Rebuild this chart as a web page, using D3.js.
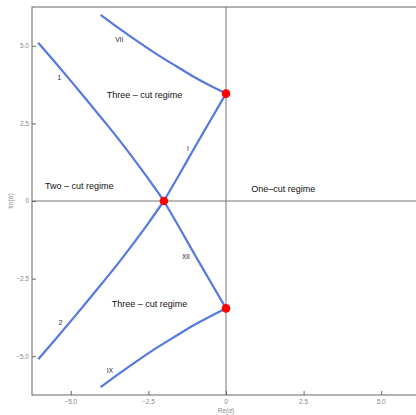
<!DOCTYPE html>
<html>
<head>
<meta charset="utf-8">
<script src="https://cdn.jsdelivr.net/npm/d3@7"></script>
<style>
  body { margin: 0; background: #fff; }
  text { font-family: "Liberation Sans", Arial, sans-serif; }
</style>
</head>
<body>
<div id="chart"></div>
<script>
// Stokes-type lines in the complex sigma plane
const curve1 = [[-6.05, 5.1], [-5.5, 4.46], [-5.0, 3.87], [-4.5, 3.27], [-4.0, 2.66], [-3.5, 2.04], [-3.0, 1.39], [-2.5, 0.71], [-2.0, 0]];
const curve2 = [[-6.05, -5.1], [-5.5, -4.46], [-5.0, -3.87], [-4.5, -3.27], [-4.0, -2.66], [-3.5, -2.04], [-3.0, -1.39], [-2.5, -0.71], [-2.0, 0]];
const curveVII = [[-4.04, 6.0], [-3.4, 5.53], [-2.8, 5.11], [-2.2, 4.71], [-1.6, 4.34], [-1.0, 3.98], [-0.5, 3.71], [0, 3.46]];
const curveIX = [[-4.04, -6.0], [-3.4, -5.53], [-2.8, -5.11], [-2.2, -4.71], [-1.6, -4.34], [-1.0, -3.98], [-0.5, -3.71], [0, -3.46]];
const curveI = [[-2.0, 0], [-1.5, 0.86], [-1.0, 1.74], [-0.5, 2.6], [0, 3.46]];
const curveXII = [[-2.0, 0], [-1.5, -0.86], [-1.0, -1.74], [-0.5, -2.6], [0, -3.46]];
const branchPoints = [[0, 3.46], [-2.0, 0], [0, -3.46]];

const curveNames = ["VII", "1", "I", "XII", "2", "IX"];
const curveNameX = [-3.44, -5.37, -1.23, -1.29, -5.33, -3.74];
const curveNameY = [5.21, 3.97, 1.67, -1.81, -3.92, -5.47];

const regionNames = ["Three \u2013 cut regime", "Two \u2013 cut regime", "One\u2013cut regime", "Three \u2013 cut regime"];
const regionX = [-3.84, -5.83, 0.81, -3.68];
const regionY = [3.41, 0.48, 0.38, -3.32];

const xTicks = [-5, -2.5, 0, 2.5, 5];
const yTicks = [-5, -2.5, 0, 2.5, 5];

const W = 416, H = 415;
const svg = d3.select("#chart").append("svg")
    .attr("width", W)
    .attr("height", H);

const fLeft = 32, fRight = 420, fTop = 7, fBottom = 395;
const x = d3.scaleLinear().domain([-6.25, 6.25]).range([fLeft, fRight]);
const y = d3.scaleLinear().domain([-6.25, 6.25]).range([fBottom, fTop]);

const grey = "#777";
const fmt = d => d === 0 ? "0" : d3.format(".1f")(d).replace("-", "\u2212");

// zero axes
svg.append("line")
    .attr("x1", x(0)).attr("x2", x(0))
    .attr("y1", fTop).attr("y2", fBottom)
    .attr("stroke", grey).attr("stroke-width", 1);
svg.append("line")
    .attr("x1", fLeft).attr("x2", fRight)
    .attr("y1", y(0)).attr("y2", y(0))
    .attr("stroke", grey).attr("stroke-width", 1);

// curves
const line = d3.line()
    .x(d => x(d[0]))
    .y(d => y(d[1]))
    .curve(d3.curveMonotoneX);

[curve1, curve2, curveVII, curveIX, curveI, curveXII].forEach(c => {
    svg.append("path")
        .attr("d", line(c))
        .attr("fill", "none")
        .attr("stroke", "#5479e0")
        .attr("stroke-width", 2.2);
});

// branch points
svg.selectAll(".bp")
    .data(branchPoints)
    .enter().append("circle")
    .attr("cx", d => x(d[0]))
    .attr("cy", d => y(d[1]))
    .attr("r", 4.3)
    .attr("fill", "#ff0000");

// frame
svg.append("rect")
    .attr("x", fLeft).attr("y", fTop)
    .attr("width", fRight - fLeft).attr("height", fBottom - fTop)
    .attr("fill", "none")
    .attr("stroke", "#666").attr("stroke-width", 1);

// inward ticks
const xAxis = svg.append("g")
    .attr("transform", `translate(0,${fBottom})`)
    .call(d3.axisTop(x).tickValues(xTicks).tickSize(4).tickFormat(""));
const yAxis = svg.append("g")
    .attr("transform", `translate(${fLeft},0)`)
    .call(d3.axisRight(y).tickValues(yTicks).tickSize(4).tickFormat(""));
[xAxis, yAxis].forEach(g => {
    g.select(".domain").remove();
    g.selectAll("line").attr("stroke", "#666");
});

// tick labels
svg.selectAll(".xl")
    .data(xTicks)
    .enter().append("text")
    .attr("x", d => x(d))
    .attr("y", fBottom + 9)
    .attr("text-anchor", "middle")
    .attr("font-size", 6.5)
    .attr("fill", "#888")
    .text(fmt);
svg.selectAll(".yl")
    .data(yTicks)
    .enter().append("text")
    .attr("x", fLeft - 3)
    .attr("y", d => y(d) + 2.3)
    .attr("text-anchor", "end")
    .attr("font-size", 6.5)
    .attr("fill", "#888")
    .text(fmt);

// axis titles
svg.append("text")
    .attr("x", x(0))
    .attr("y", 413)
    .attr("text-anchor", "middle")
    .attr("font-size", 6.5)
    .attr("fill", "#888")
    .html("Re(<tspan font-style='italic'>\u03c3</tspan>)");
svg.append("text")
    .attr("transform", `translate(13,${y(0)}) rotate(-90)`)
    .attr("text-anchor", "middle")
    .attr("font-size", 6.5)
    .attr("fill", "#888")
    .html("Im(<tspan font-style='italic'>\u03c3</tspan>)");

// curve names
svg.selectAll(".cn")
    .data(curveNames)
    .enter().append("text")
    .attr("x", (d, i) => x(curveNameX[i]))
    .attr("y", (d, i) => y(curveNameY[i]) + 2.3)
    .attr("text-anchor", "middle")
    .attr("font-size", 6.5)
    .attr("fill", "#222")
    .text(d => d);

// regime names
svg.selectAll(".rn")
    .data(regionNames)
    .enter().append("text")
    .attr("x", (d, i) => x(regionX[i]))
    .attr("y", (d, i) => y(regionY[i]) + 3.2)
    .attr("font-size", 9)
    .attr("fill", "#111")
    .text(d => d);
</script>
</body>
</html>
